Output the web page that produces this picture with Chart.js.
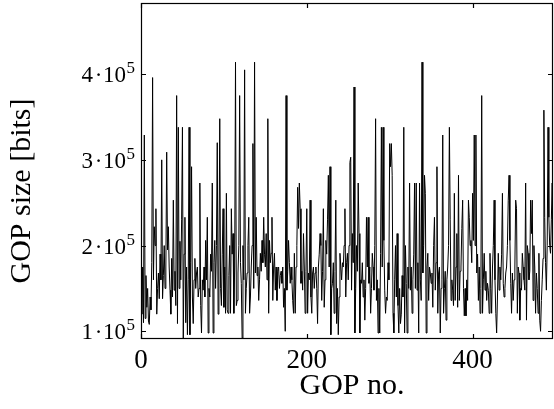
<!DOCTYPE html>
<html>
<head>
<meta charset="utf-8">
<script src="https://cdn.jsdelivr.net/npm/chart.js@4"></script>
<style>
  html, body { margin: 0; padding: 0; background: #fff; }
  #wrap { width: 554px; height: 409px; }
</style>
</head>
<body>
<div id="wrap"><canvas id="gop"></canvas></div>
<script>
// GOP sizes in kbit, one per GOP (index = GOP no.)
const gopSizeKbit = [
  160, 120, 175, 110, 329, 115, 165, 128, 150, 112,
  108, 140, 125, 180, 396, 160, 222, 200, 243, 120,
  150, 168, 138, 190, 160, 300, 138, 165, 200, 150,
  175, 309, 195, 222, 175, 148, 120, 185, 140, 253,
  148, 170, 130, 375, 109, 338, 150, 205, 160, 230,
  338, 92, 190, 233, 110, 175, 96, 160, 338, 96,
  180, 292, 140, 109, 160, 185, 150, 168, 175, 140,
  150, 273, 130, 98, 160, 148, 175, 140, 206, 160,
  233, 98, 150, 140, 190, 170, 273, 98, 180, 206,
  150, 200, 320, 120, 175, 348, 150, 130, 190, 243,
  128, 175, 121, 261, 125, 121, 165, 200, 121, 243,
  190, 214, 121, 175, 414, 130, 136, 168, 200, 375,
  180, 156, 92, 200, 160, 405, 121, 150, 168, 200,
  233, 121, 140, 175, 200, 319, 150, 414, 168, 233,
  165, 175, 136, 160, 191, 170, 206, 180, 233, 190,
  175, 214, 160, 348, 121, 206, 180, 191, 233, 136,
  175, 191, 148, 175, 136, 170, 175, 150, 165, 170,
  156, 175, 128, 150, 100, 375, 148, 170, 206, 180,
  156, 175, 160, 136, 121, 191, 121, 175, 200, 268,
  220, 273, 243, 156, 170, 148, 214, 175, 121, 170,
  243, 121, 168, 160, 253, 140, 121, 168, 175, 150,
  168, 175, 150, 109, 175, 190, 214, 200, 136, 170,
  243, 128, 160, 206, 190, 230, 282, 175, 292, 96,
  150, 156, 180, 121, 170, 253, 109, 150, 96, 140,
  191, 175, 160, 180, 175, 200, 243, 140, 180, 191,
  160, 200, 297, 303, 148, 214, 180, 385, 98, 150,
  200, 170, 273, 214, 98, 160, 156, 180, 140, 160,
  113, 150, 233, 175, 233, 156, 175, 121, 150, 191,
  175, 148, 200, 348, 136, 160, 98, 150, 98, 191,
  338, 175, 338, 206, 148, 121, 140, 136, 180, 160,
  319, 292, 319, 282, 121, 98, 160, 200, 140, 214,
  130, 98, 150, 109, 120, 165, 140, 338, 98, 200,
  156, 98, 175, 150, 273, 148, 175, 121, 160, 190,
  273, 150, 273, 148, 180, 98, 273, 160, 136, 414,
  168, 200, 282, 261, 98, 175, 191, 136, 175, 168,
  156, 168, 128, 200, 233, 148, 180, 292, 121, 168,
  175, 98, 150, 160, 329, 121, 150, 170, 113, 160,
  175, 200, 338, 230, 136, 160, 148, 130, 261, 136,
  175, 214, 128, 282, 136, 170, 175, 220, 253, 150,
  118, 150, 118, 160, 136, 253, 233, 200, 206, 180,
  261, 206, 329, 200, 329, 168, 190, 136, 175, 121,
  150, 375, 121, 160, 191, 148, 170, 136, 156, 148,
  121, 191, 150, 121, 175, 200, 253, 160, 121, 98,
  140, 191, 148, 175, 160, 190, 261, 156, 140, 150,
  168, 175, 200, 253, 282, 206, 156, 121, 168, 136,
  160, 175, 253, 243, 121, 175, 168, 113, 150, 148,
  191, 175, 160, 148, 273, 113, 200, 191, 160, 170,
  253, 214, 253, 136, 200, 175, 121, 168, 150, 121,
  191, 113, 100, 136, 160, 185, 358, 233, 180, 148,
  200, 338, 233, 200, 191, 230, 273, 214
];
const yTicks = [100000, 200000, 300000, 400000];
const xTicks = [0, 200, 400];
const xMax = 497;
const yMin = 91000, yMax = 483000;
const xTitle = 'GOP no.';
const yTitle = 'GOP size [bits]';

const points = gopSizeKbit.map((v, i) => ({ x: i, y: v * 1000 }));

const serif = "'Liberation Serif', 'DejaVu Serif', serif";

// box around the plot with short inward ticks on all four sides,
// y labels written as m · 10^5 with a raised exponent, and the axis titles
const framePlugin = {
  id: 'frame',
  afterDatasetsDraw(chart) {
    const { ctx, chartArea: a, scales: { x, y } } = chart;
    ctx.save();
    ctx.strokeStyle = '#000';
    ctx.lineWidth = 1.2;
    ctx.strokeRect(a.left + 0.5, a.top + 0.5, a.right - a.left - 1, a.bottom - a.top - 1);
    ctx.beginPath();
    for (const t of y.ticks) {
      const py = Math.round(y.getPixelForValue(t.value)) + 0.5;
      ctx.moveTo(a.left, py); ctx.lineTo(a.left + 5, py);
      ctx.moveTo(a.right, py); ctx.lineTo(a.right - 5, py);
    }
    for (const t of x.ticks) {
      const px = Math.round(x.getPixelForValue(t.value)) + 0.5;
      ctx.moveTo(px, a.bottom); ctx.lineTo(px, a.bottom - 5);
      ctx.moveTo(px, a.top); ctx.lineTo(px, a.top + 5);
    }
    ctx.stroke();

    ctx.fillStyle = '#000';
    ctx.textBaseline = 'alphabetic';
    const exp = Math.log10(yTicks[0]);
    for (const t of y.ticks) {
      const py = y.getPixelForValue(t.value);
      const base = py + 8;
      ctx.font = '23px ' + serif;
      ctx.textAlign = 'right';
      ctx.fillText(String(t.value / Math.pow(10, exp)), 93, base);
      ctx.textAlign = 'center';
      ctx.fillText('·', 98.5, base);
      ctx.textAlign = 'right';
      ctx.fillText('10', 126, base);
      ctx.font = '17px ' + serif;
      ctx.textAlign = 'left';
      ctx.fillText(String(exp), 126.5, base - 9);
    }

    ctx.font = '30px ' + serif;
    ctx.textAlign = 'center';
    ctx.textBaseline = 'middle';
    ctx.fillText(xTitle, 352, 386);
    ctx.translate(22, 191);
    ctx.rotate(-Math.PI / 2);
    ctx.fillText(yTitle, 0, 0);
    ctx.restore();
  }
};

new Chart(document.getElementById('gop'), {
  type: 'line',
  data: {
    datasets: [{
      data: points,
      borderColor: '#000',
      borderWidth: 1,
      pointRadius: 0,
      tension: 0,
      fill: false
    }]
  },
  options: {
    responsive: true,
    maintainAspectRatio: false,
    animation: false,
    layout: { padding: { top: 3, right: 1, left: 0, bottom: 0 } },
    plugins: { legend: { display: false }, tooltip: { enabled: false } },
    scales: {
      x: {
        type: 'linear',
        min: 0,
        max: xMax,
        afterBuildTicks: s => { s.ticks = xTicks.map(v => ({ value: v })); },
        afterFit: s => { s.height = 70; s.paddingLeft = 0; s.paddingRight = 0; },
        grid: { display: false, drawTicks: false },
        border: { display: false },
        ticks: { color: '#000', padding: 6, maxRotation: 0, font: { family: serif, size: 27 } }
      },
      y: {
        type: 'linear',
        min: yMin,
        max: yMax,
        afterBuildTicks: s => { s.ticks = yTicks.map(v => ({ value: v })); },
        afterFit: s => { s.width = 141; s.paddingTop = 0; s.paddingBottom = 0; },
        grid: { display: false, drawTicks: false },
        border: { display: false },
        ticks: { display: false }
      }
    }
  },
  plugins: [framePlugin]
});
</script>
</body>
</html>
